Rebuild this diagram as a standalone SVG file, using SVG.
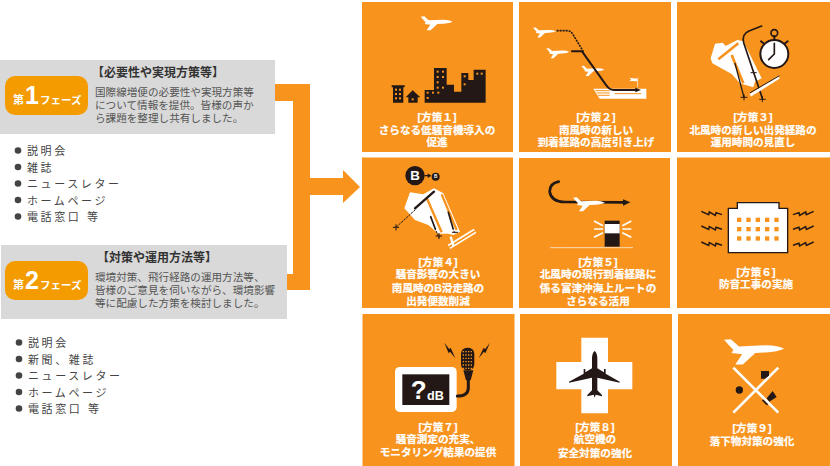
<svg xmlns="http://www.w3.org/2000/svg" width="830" height="466" viewBox="0 0 830 466">
<style>
text{font-family:"Liberation Sans","Noto Sans CJK JP",sans-serif}
.panel{fill:#f8931e}
.gray{fill:#d9d9d9}
.pill{fill:#f49b00}
.lab{fill:#fff;stroke:#fff;stroke-width:.2px;font-size:10.6px;font-weight:700;text-anchor:middle}
.head{fill:#333;font-size:12px;font-weight:700}
.body{fill:#555;font-size:10.6px}
.list{fill:#444;font-size:11px;letter-spacing:2.6px}
.bul{fill:#444}
.ph{fill:#fff;font-weight:700;font-size:11px}
.num{fill:#fff;font-weight:700;font-size:25px}
.dk{fill:#231815}
.wh{fill:#fff}
.or{fill:#f8931e}
.ln{fill:none;stroke:#231815;stroke-linecap:round;stroke-linejoin:round}
.wl{fill:none;stroke:#fff}
.ol{fill:none;stroke:#f8931e}
</style>
<defs>
<path id="plane" d="M0 3L11 2L24 14L68 12Q86 12 96 18Q86 23 66 24L50 25L30 44L18 44L29 27L12 25L15 20Z"/>
<path id="bolt" d="M0 1L22 11L24 3L42 13L44 5L62 11" fill="none" stroke="#231815" stroke-width="4.500" stroke-linejoin="miter"/>
</defs>

<g id="connectors" fill="#f8931e">
<path d="M275 84H310V290H287V274H293V101H275Z"/>
<path d="M310 178H343V170L360 187L343 203V195H310Z"/>
</g>

<g id="phase1">
<rect class="gray" x="0" y="60" width="275" height="74"/>
<rect class="pill" x="5" y="76" width="83" height="39" rx="10"/>
<text class="ph" x="13" y="104">第</text>
<text class="num" x="25" y="104">1</text>
<text class="ph" x="40" y="104" style="font-size:10.5px">フェーズ</text>
<text class="head" x="92" y="77">【必要性や実現方策等】</text>
<text class="body"><tspan x="95" y="96">国際線増便の必要性や実現方策等</tspan><tspan x="95" y="109">について情報を提供。皆様の声か</tspan><tspan x="95" y="122">ら課題を整理し共有しました。</tspan></text>
</g>
<g id="list1">
<circle class="bul" cx="18" cy="150.500" r="3.300"/><text class="list" x="27" y="155">説明会</text>
<circle class="bul" cx="18" cy="167" r="3.300"/><text class="list" x="27" y="171.500">雑誌</text>
<circle class="bul" cx="18" cy="183.500" r="3.300"/><text class="list" x="27" y="188">ニュースレター</text>
<circle class="bul" cx="18" cy="200" r="3.300"/><text class="list" x="27" y="204.500">ホームページ</text>
<circle class="bul" cx="18" cy="216.500" r="3.300"/><text class="list" x="27" y="221">電話窓口 等</text>
</g>

<g id="phase2">
<rect class="gray" x="1" y="245" width="286" height="74"/>
<rect class="pill" x="5" y="261" width="83" height="39" rx="10"/>
<text class="ph" x="13" y="289">第</text>
<text class="num" x="25" y="289">2</text>
<text class="ph" x="40" y="289" style="font-size:10.5px">フェーズ</text>
<text class="head" x="97" y="262">【対策や運用方法等】</text>
<text class="body"><tspan x="95" y="281">環境対策、飛行経路の運用方法等、</tspan><tspan x="95" y="294">皆様のご意見を伺いながら、環境影響</tspan><tspan x="95" y="307">等に配慮した方策を検討しました。</tspan></text>
</g>
<g id="list2">
<circle class="bul" cx="19" cy="342.500" r="3.300"/><text class="list" x="28" y="347">説明会</text>
<circle class="bul" cx="19" cy="359" r="3.300"/><text class="list" x="28" y="363.500">新聞、雑誌</text>
<circle class="bul" cx="19" cy="375.500" r="3.300"/><text class="list" x="28" y="380">ニュースレター</text>
<circle class="bul" cx="19" cy="392" r="3.300"/><text class="list" x="28" y="396.500">ホームページ</text>
<circle class="bul" cx="19" cy="408.500" r="3.300"/><text class="list" x="28" y="413">電話窓口 等</text>
</g>

<g id="plan1">
<rect class="panel" x="362" y="2" width="151" height="150"/>
<g transform="translate(360,0) scale(.3333)">
<use href="#plane" class="wh" transform="translate(182,47)"/>
<path class="dk" d="M95 256H134V262H130V308H99V262H95Z"/>
<path class="dk" d="M158 271L181 292H173V308H145V292H137Z"/>
<path class="dk" d="M194 308V270H222V204H260V254H282V275H304V219H325V240H341V209H377V308Z"/>
<g class="or">
<rect x="105" y="266" width="6" height="6"/><rect x="117" y="266" width="6" height="6"/><rect x="105" y="279" width="6" height="6"/><rect x="117" y="279" width="6" height="6"/><rect x="105" y="292" width="6" height="6"/><rect x="117" y="292" width="6" height="6"/>
<rect x="155" y="295" width="6" height="6"/>
<rect x="200" y="275" width="6" height="6"/><rect x="216" y="275" width="6" height="6"/><rect x="200" y="291" width="6" height="6"/><rect x="232" y="275" width="6" height="6"/>
<rect x="230" y="212" width="6" height="6"/><rect x="246" y="212" width="6" height="6"/><rect x="230" y="228" width="6" height="6"/><rect x="246" y="228" width="6" height="6"/><rect x="230" y="244" width="6" height="6"/><rect x="230" y="260" width="6" height="6"/><rect x="246" y="260" width="6" height="6"/>
<rect x="311" y="226" width="6" height="6"/><rect x="311" y="250" width="6" height="6"/>
<rect x="349" y="218" width="6" height="6"/><rect x="362" y="218" width="6" height="6"/>
</g>
</g>
<text class="lab"><tspan x="437" y="121">[方策１]</tspan><tspan x="437" y="133.500">さらなる低騒音機導入の</tspan><tspan x="437" y="146">促進</tspan></text>
</g>

<g id="plan2">
<rect class="panel" x="519" y="2" width="152" height="150"/>
<g transform="translate(518,0) scale(.3333)">
<use href="#plane" class="wh" transform="translate(45,81) scale(.72)"/>
<use href="#plane" class="wh" transform="translate(85,143) scale(.72)"/>
<use href="#plane" class="wh" transform="translate(190,196) scale(.72)"/>
<path class="ln" stroke-width="5" stroke-dasharray="2 7" d="M118 92H150Q160 94 166 105L196 155"/>
<path d="M226 266H385V296H245Z" class="wh"/>
<path class="ol" stroke-width="3" d="M232 272H275M236 279H275M240 286H275M290 281H370"/>
<path class="ln" stroke-width="6" d="M162 154H192L265 256Q274 270 287 270H355"/>
<path class="dk" d="M352 263L369 270L352 277Z"/>
<path class="wh" d="M333 233L358 236V244L335 243L340 238Z"/>
<path class="wl" stroke-width="2" d="M359 233V262"/>
</g>
<text class="lab"><tspan x="596" y="121">[方策２]</tspan><tspan x="596" y="133.500">南風時の新しい</tspan><tspan x="596" y="146">到着経路の高度引き上げ</tspan></text>
</g>

<g id="plan3">
<rect class="panel" x="677" y="2" width="153" height="150"/>
<g transform="translate(675,0) scale(.3333)">
<path class="wh" d="M107 175L120 131L143 128L152 138L187 120L205 124L260 235L240 245L235 262L195 250L170 222L112 190Z"/>
<path class="ol" stroke-width="8" d="M130 178L190 130M170 165L205 250"/>
<path class="ln" stroke-width="5" d="M260 78L222 93Q200 102 206 128L262 295"/>
<path class="ln" stroke-width="4" d="M180 190L207 292"/>
<path class="ln" stroke-width="3" d="M198 292H216M207 284V300M254 298H271M262 290V305M228 218H244"/>
<path class="wl" stroke-width="9" d="M226 286L312 232"/>
<path class="ln" stroke-width="3" d="M226 278L312 228"/>
<circle cx="298" cy="99" r="10" fill="none" stroke="#231815" stroke-width="5"/>
<path class="ln" stroke-width="6" d="M298 109V122M258 124L268 132M338 124L328 132"/>
<circle cx="298" cy="162" r="42" fill="#fff" stroke="#231815" stroke-width="6"/>
<path class="ln" stroke-width="5" d="M298 130V162L281 179"/>
</g>
<text class="lab"><tspan x="753" y="121">[方策３]</tspan><tspan x="753" y="133.500">北風時の新しい出発経路の</tspan><tspan x="753" y="146">運用時間の見直し</tspan></text>
</g>

<g id="plan4">
<rect class="panel" x="362" y="157.500" width="151" height="150.500"/>
<g transform="translate(360,155) scale(.3333)">
<path class="wh" d="M133 160L150 112L190 118L222 100L250 115L300 230L280 240L265 236L235 236L205 210L165 195Z"/>
<path class="ol" stroke-width="7" d="M200 128L245 232M245 118L290 225"/>
<path class="ln" stroke-width="7" d="M222 110L165 160"/>
<path class="ln" stroke-width="3" stroke-dasharray="5 5" d="M165 165L108 217M225 220L237 248M278 220L285 235"/>
<path class="ln" stroke-width="5" d="M212 185L226 222M265 172L279 220"/>
<path class="ln" stroke-width="3" d="M100 217H116M108 209V225M228 243H245M237 235V251M277 232H293"/>
<path class="wl" stroke-width="15" d="M267 276L345 228"/>
<path class="ol" stroke-width="5" d="M267 276L345 228"/>
<path class="wl" stroke-width="7" d="M272 245L280 272"/>
<circle class="dk" cx="165" cy="62" r="29"/>
<text x="165" y="76" text-anchor="middle" class="wh" style="font-size:40px;font-weight:700">B</text>
<path class="ln" stroke-width="4" d="M195 62H205"/>
<path class="dk" d="M203 55L214 62L203 69Z"/>
<circle class="dk" cx="227" cy="65" r="12"/>
<text x="227" y="70" text-anchor="middle" class="wh" style="font-size:14px;font-weight:700">B</text>
</g>
<text class="lab"><tspan x="438" y="265.700">[方策４]</tspan><tspan x="438" y="278.300">騒音影響の大きい</tspan><tspan x="438" y="291.700">南風時のB滑走路の</tspan><tspan x="438" y="304.700">出発便数削減</tspan></text>
</g>

<g id="plan5">
<rect class="panel" x="519" y="158" width="151" height="150"/>
<g transform="translate(518,155) scale(.3333)">
<path class="ln" stroke-width="8" d="M122 80Q95 85 95 110Q100 140 140 141L320 142"/>
<path class="dk" d="M315 133L337 142L315 152Z"/>
<use href="#plane" class="wh" transform="translate(165,125)"/>
<rect class="dk" x="260" y="197" width="45" height="78"/>
<rect class="wh" x="260" y="207" width="45" height="28"/>
<path class="wl" stroke-width="5" d="M228 198L255 212M228 222L255 222M228 247L255 233M340 198L313 212M340 222L313 222M340 247L313 233"/>
<path class="wl" stroke-width="3" stroke-dasharray="4 2" d="M97 278H345"/>
</g>
<text class="lab"><tspan x="598" y="265.700">[方策５]</tspan><tspan x="598" y="278.300">北風時の現行到着経路に</tspan><tspan x="598" y="291.700">係る富津沖海上ルートの</tspan><tspan x="598" y="304.700">さらなる活用</tspan></text>
</g>

<g id="plan6">
<rect class="panel" x="677" y="157.500" width="153" height="150.500"/>
<g transform="translate(675,155) scale(.3333)">
<path d="M160 160H187V143H312V160H338V293H160Z" fill="#fff" stroke="#231815" stroke-width="4"/>
<g class="or">
<rect x="186" y="188" width="13" height="13"/><rect x="214" y="188" width="13" height="13"/><rect x="242" y="188" width="13" height="13"/><rect x="270" y="188" width="13" height="13"/><rect x="298" y="188" width="13" height="13"/>
<rect x="186" y="216" width="13" height="13"/><rect x="214" y="216" width="13" height="13"/><rect x="242" y="216" width="13" height="13"/><rect x="270" y="216" width="13" height="13"/><rect x="298" y="216" width="13" height="13"/>
<rect x="186" y="244" width="13" height="13"/><rect x="214" y="244" width="13" height="13"/><rect x="242" y="244" width="13" height="13"/><rect x="270" y="244" width="13" height="13"/><rect x="298" y="244" width="13" height="13"/>
</g>
<use href="#bolt" transform="translate(79,168)"/><use href="#bolt" transform="translate(79,212)"/><use href="#bolt" transform="translate(79,260)"/>
<use href="#bolt" transform="translate(416,168) scale(-1,1)"/><use href="#bolt" transform="translate(416,212) scale(-1,1)"/><use href="#bolt" transform="translate(416,260) scale(-1,1)"/>
</g>
<text class="lab"><tspan x="756" y="275.700">[方策６]</tspan><tspan x="756" y="288.300">防音工事の実施</tspan></text>
</g>

<g id="plan7">
<rect class="panel" x="362.500" y="314" width="152" height="152"/>
<g transform="translate(360,311) scale(.3333)">
<rect class="wh" x="105" y="168" width="185" height="135" rx="14"/>
<rect class="dk" x="127" y="190" width="141" height="92"/>
<text x="152" y="264" class="wh" style="font-size:78px;font-weight:700">?</text>
<text x="201" y="268" class="wh" style="font-size:38px;font-weight:700">dB</text>
<path class="ln" stroke-width="9" d="M325 200V230Q325 255 292 255"/>
<path class="dk" d="M310 178H340L332 208H318Z"/>
<rect class="dk" x="303" y="110" width="40" height="68" rx="18"/>
<path stroke="#f8931e" stroke-width="4" stroke-dasharray="4 4" fill="none" d="M308 122H338M308 132H338M308 142H338M308 152H338M308 162H338M308 172H338"/>
<path class="dk" d="M253 95L268 115L272 110L286 142L270 122L266 127Z"/>
<path class="dk" d="M390 95L375 115L371 110L356 142L372 122L376 127Z"/>
</g>
<text class="lab"><tspan x="438" y="430.700">[方策７]</tspan><tspan x="438" y="443.300">騒音測定の充実、</tspan><tspan x="438" y="456">モニタリング結果の提供</tspan></text>
</g>

<g id="plan8">
<rect class="panel" x="520" y="314" width="152" height="152"/>
<g transform="translate(518,311) scale(.3333)">
<path class="wh" d="M190 80H270V153H343V235H270V307H190V235H115V153H190Z"/>
<path class="dk" d="M230 120Q237 125 238 140V172L258 184V174H263V188L305 212V215L238 200V238L252 252V256L233 251L230 260L227 251L208 256V252L222 238V200L153 215V212L197 188V174H202V184L222 172V140Q223 125 230 120Z"/>
</g>
<text class="lab"><tspan x="595" y="431">[方策８]</tspan><tspan x="595" y="443.300">航空機の</tspan><tspan x="595" y="456.700">安全対策の強化</tspan></text>
</g>

<g id="plan9">
<rect class="panel" x="678" y="314" width="152" height="152"/>
<g transform="translate(675,311) scale(.3333)">
<use href="#plane" class="wh" transform="translate(147,81) scale(1.88,1.8)"/>
<path class="wl" stroke-width="8" d="M175 170L310 305M310 170L175 305"/>
<circle class="dk" cx="193" cy="237" r="11"/>
<path class="dk" d="M258 180H282V194L270 203H258Z"/>
<path class="dk" d="M293 240L305 258L283 272L275 262Z"/>
<path class="ln" stroke-width="5" d="M264 268L276 280"/>
</g>
<text class="lab"><tspan x="752" y="431.700">[方策９]</tspan><tspan x="752" y="445">落下物対策の強化</tspan></text>
</g>
</svg>
